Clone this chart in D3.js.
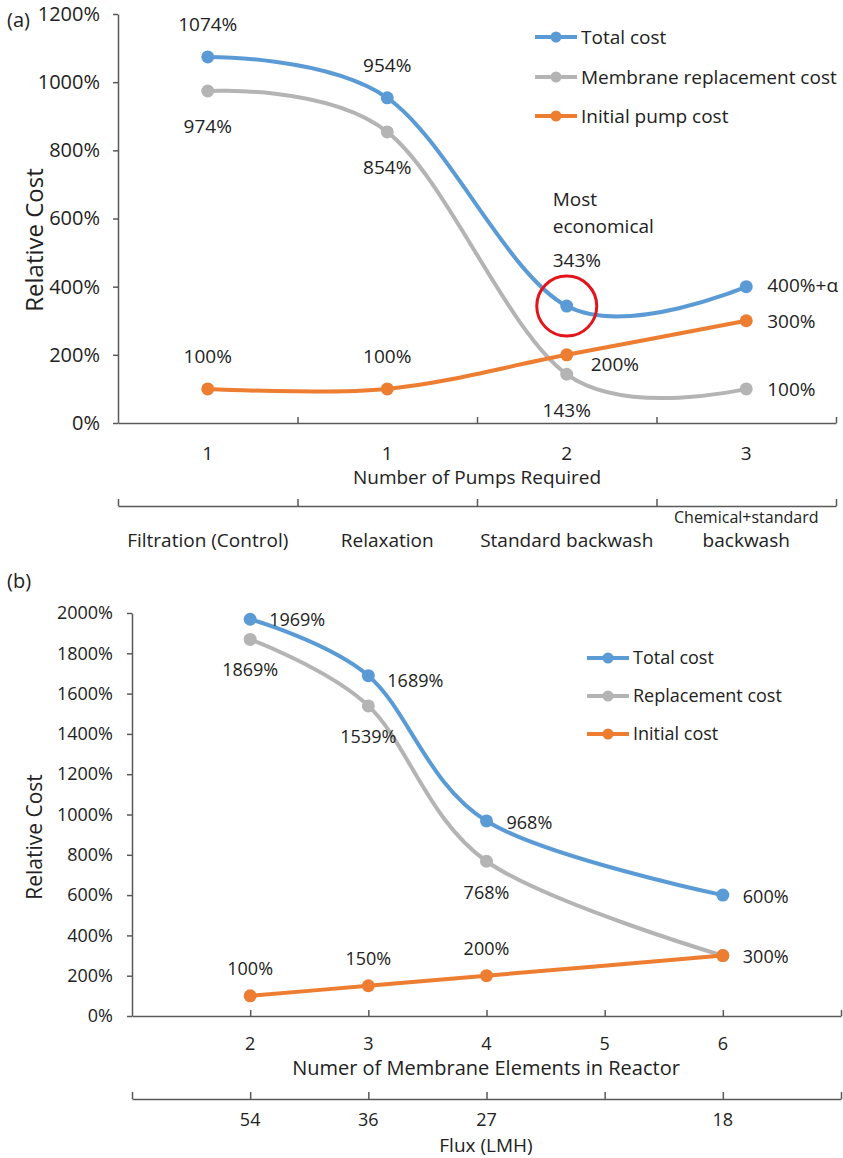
<!DOCTYPE html>
<html>
<head>
<meta charset="utf-8">
<script src="https://cdn.jsdelivr.net/npm/d3@7"></script>
<style>
  body { margin: 0; background: #fff; }
  text { font-family: 'Open Sans', 'Noto Sans', sans-serif; fill: #222; }
</style>
</head>
<body>
<svg id="chart" width="843" height="1158"></svg>
<script>
// panel (a) data
const methods = ['Filtration (Control)', 'Relaxation', 'Standard backwash', 'Chemical+standard backwash'];
const pumpsRequired = ['1', '1', '2', '3'];
const totalCostA = [1074, 954, 343, 400];
const membraneCostA = [974, 854, 143, 100];
const pumpCostA = [100, 100, 200, 300];
const legendA = ['Total cost', 'Membrane replacement cost', 'Initial pump cost'];

// panel (b) data
const elements = [2, 3, 4, 6];
const elementTicks = [2, 3, 4, 5, 6];
const fluxLMH = [54, 36, 27, 18];
const totalCostB = [1969, 1689, 968, 600];
const replacementCostB = [1869, 1539, 768, 300];
const initialCostB = [100, 150, 200, 300];
const legendB = ['Total cost', 'Replacement cost', 'Initial cost'];

const colors = ['#5b9bd5', '#b4b4b4', '#ed7d31'];
const axisColor = '#595959';

// label placement per point: [dx, dy, anchor], null = no label
const placeA = [
    [[0, -26, 'middle'], [0, -26, 'middle'], [-14, -39, 'start'], [21, 5, 'start']],
    [[0, 42, 'middle'], [0, 42, 'middle'], [0, 43, 'middle'], [21, 7, 'start']],
    [[0, -26, 'middle'], [0, -26, 'middle'], [24, 16, 'start'], [21, 7, 'start']]
];
const placeB = [
    [[19, 7, 'start'], [19, 11, 'start'], [20, 8, 'start'], [20, 8, 'start']],
    [[0, 37, 'middle'], [0, 37, 'middle'], [0, 38, 'middle'], null],
    [[0, -21, 'middle'], [0, -21, 'middle'], [0, -21, 'middle'], [20, 7, 'start']]
];

const svg = d3.select('#chart');

function styleAxis(g) {
    g.selectAll('path, line').attr('stroke', axisColor).attr('stroke-width', 1.5);
    g.selectAll('text').attr('fill', '#222');
}

function drawSeries(xPos, yScale, seriesList, place, fontSize, labelText) {
    const line = d3.line()
        .x((d, i) => xPos(i))
        .y(d => yScale(d))
        .curve(d3.curveCatmullRom.alpha(0));

    seriesList.forEach((values, s) => {
        svg.append('path')
            .datum(values)
            .attr('d', line)
            .attr('fill', 'none')
            .attr('stroke', colors[s])
            .attr('stroke-width', 4);

        svg.append('g')
            .selectAll('circle')
            .data(values)
            .join('circle')
            .attr('cx', (d, i) => xPos(i))
            .attr('cy', d => yScale(d))
            .attr('r', 6.5)
            .attr('fill', colors[s]);

        values.forEach((v, i) => {
            const p = place[s][i];
            if (!p) return;
            svg.append('text')
                .attr('x', xPos(i) + p[0])
                .attr('y', yScale(v) + p[1])
                .attr('text-anchor', p[2])
                .attr('font-size', fontSize)
                .text(labelText(s, i, v));
        });
    });
}

function drawLegend(names, x, ys, fontSize) {
    names.forEach((name, i) => {
        svg.append('line')
            .attr('x1', x).attr('x2', x + 42)
            .attr('y1', ys[i]).attr('y2', ys[i])
            .attr('stroke', colors[i]).attr('stroke-width', 4);
        svg.append('circle')
            .attr('cx', x + 21).attr('cy', ys[i]).attr('r', 5.5)
            .attr('fill', colors[i]);
        svg.append('text')
            .attr('x', x + 46).attr('y', ys[i])
            .attr('dy', '0.35em')
            .attr('font-size', fontSize)
            .text(name);
    });
}

// ---------- panel (a) ----------
const xA = d3.scaleBand().domain(d3.range(methods.length)).range([118, 836]);
const xAc = i => xA(i) + xA.bandwidth() / 2;
const yA = d3.scaleLinear().domain([0, 1200]).range([423, 14]);
const boundsA = d3.scaleLinear().domain([0, methods.length]).range([118, 836]);

svg.append('text').attr('x', 7).attr('y', 27).attr('font-size', 20).text('(a)');

svg.append('g')
    .attr('transform', 'translate(118,0)')
    .call(d3.axisLeft(yA).tickValues(d3.range(0, 1201, 200)).tickFormat(d => d + '%').tickSize(5).tickSizeOuter(0).tickPadding(13))
    .attr('font-size', 20)
    .attr('font-family', "'Open Sans', sans-serif")
    .call(styleAxis);

svg.append('g')
    .attr('transform', 'translate(0,423)')
    .call(d3.axisTop(boundsA).tickValues([1, 2, 3, 4]).tickFormat('').tickSize(6).tickSizeOuter(0))
    .call(styleAxis);

svg.append('g')
    .attr('transform', 'translate(0,506)')
    .call(d3.axisTop(boundsA).tickValues([0, 1, 2, 3, 4]).tickFormat('').tickSize(7).tickSizeOuter(0))
    .call(styleAxis);

svg.append('text')
    .attr('transform', 'translate(43,240) rotate(-90)')
    .attr('text-anchor', 'middle')
    .attr('font-size', 24)
    .text('Relative Cost');

svg.append('g')
    .selectAll('text')
    .data(pumpsRequired)
    .join('text')
    .attr('x', (d, i) => xAc(i))
    .attr('y', 460)
    .attr('text-anchor', 'middle')
    .attr('font-size', 19)
    .text(d => d);

svg.append('text')
    .attr('x', 477).attr('y', 484)
    .attr('text-anchor', 'middle')
    .attr('font-size', 19)
    .text('Number of Pumps Required');

methods.forEach((m, i) => {
    if (m === 'Chemical+standard backwash') {
        svg.append('text').attr('x', xAc(i)).attr('y', 523)
            .attr('text-anchor', 'middle').attr('font-size', 16).text('Chemical+standard');
        svg.append('text').attr('x', xAc(i)).attr('y', 547)
            .attr('text-anchor', 'middle').attr('font-size', 19).text('backwash');
    } else {
        svg.append('text').attr('x', xAc(i)).attr('y', 547)
            .attr('text-anchor', 'middle').attr('font-size', 19).text(m);
    }
});

drawSeries(xAc, yA, [totalCostA, membraneCostA, pumpCostA], placeA, 19,
    (s, i, v) => (s === 0 && i === 3) ? v + '%+\u03b1' : v + '%');

// most economical annotation
svg.append('circle')
    .attr('cx', xAc(2)).attr('cy', yA(totalCostA[2]))
    .attr('r', 30)
    .attr('fill', 'none')
    .attr('stroke', '#e3141c')
    .attr('stroke-width', 3);
svg.append('text').attr('x', xAc(2) - 14).attr('y', 206).attr('font-size', 19).text('Most');
svg.append('text').attr('x', xAc(2) - 14).attr('y', 233).attr('font-size', 19).text('economical');

drawLegend(legendA, 535, [37, 77, 116], 19);

// ---------- panel (b) ----------
const xB = d3.scaleLinear().domain([1, 7]).range([132, 841]);
const yB = d3.scaleLinear().domain([0, 2000]).range([1016, 613]);
const xBi = i => xB(elements[i]);

svg.append('text').attr('x', 7).attr('y', 588).attr('font-size', 20).text('(b)');

svg.append('g')
    .attr('transform', 'translate(132,0)')
    .call(d3.axisLeft(yB).tickValues(d3.range(0, 2001, 200)).tickFormat(d => d + '%').tickSize(5).tickSizeOuter(0).tickPadding(14))
    .attr('font-size', 18)
    .attr('font-family', "'Open Sans', sans-serif")
    .call(styleAxis);

svg.append('g')
    .attr('transform', 'translate(0,1016)')
    .call(d3.axisTop(xB).tickValues([2, 3, 4, 5, 6, 7]).tickFormat('').tickSize(6).tickSizeOuter(0))
    .call(styleAxis);

svg.append('g')
    .attr('transform', 'translate(0,1099)')
    .call(d3.axisTop(xB).tickValues([1, 2, 3, 4, 5, 6, 7]).tickFormat('').tickSize(7).tickSizeOuter(0))
    .call(styleAxis);

svg.append('text')
    .attr('transform', 'translate(42,837) rotate(-90)')
    .attr('text-anchor', 'middle')
    .attr('font-size', 21)
    .text('Relative Cost');

svg.append('g')
    .selectAll('text')
    .data(elementTicks)
    .join('text')
    .attr('x', d => xB(d))
    .attr('y', 1050)
    .attr('text-anchor', 'middle')
    .attr('font-size', 18)
    .text(d => d);

svg.append('text')
    .attr('x', 486).attr('y', 1075)
    .attr('text-anchor', 'middle')
    .attr('font-size', 20)
    .text('Numer of Membrane Elements in Reactor');

svg.append('g')
    .selectAll('text')
    .data(fluxLMH)
    .join('text')
    .attr('x', (d, i) => xBi(i))
    .attr('y', 1126)
    .attr('text-anchor', 'middle')
    .attr('font-size', 18)
    .text(d => d);

svg.append('text')
    .attr('x', 486).attr('y', 1152)
    .attr('text-anchor', 'middle')
    .attr('font-size', 19)
    .text('Flux (LMH)');

drawSeries(xBi, yB, [totalCostB, replacementCostB, initialCostB], placeB, 18, (s, i, v) => v + '%');

drawLegend(legendB, 587, [658, 696, 734], 18);
</script>
</body>
</html>
